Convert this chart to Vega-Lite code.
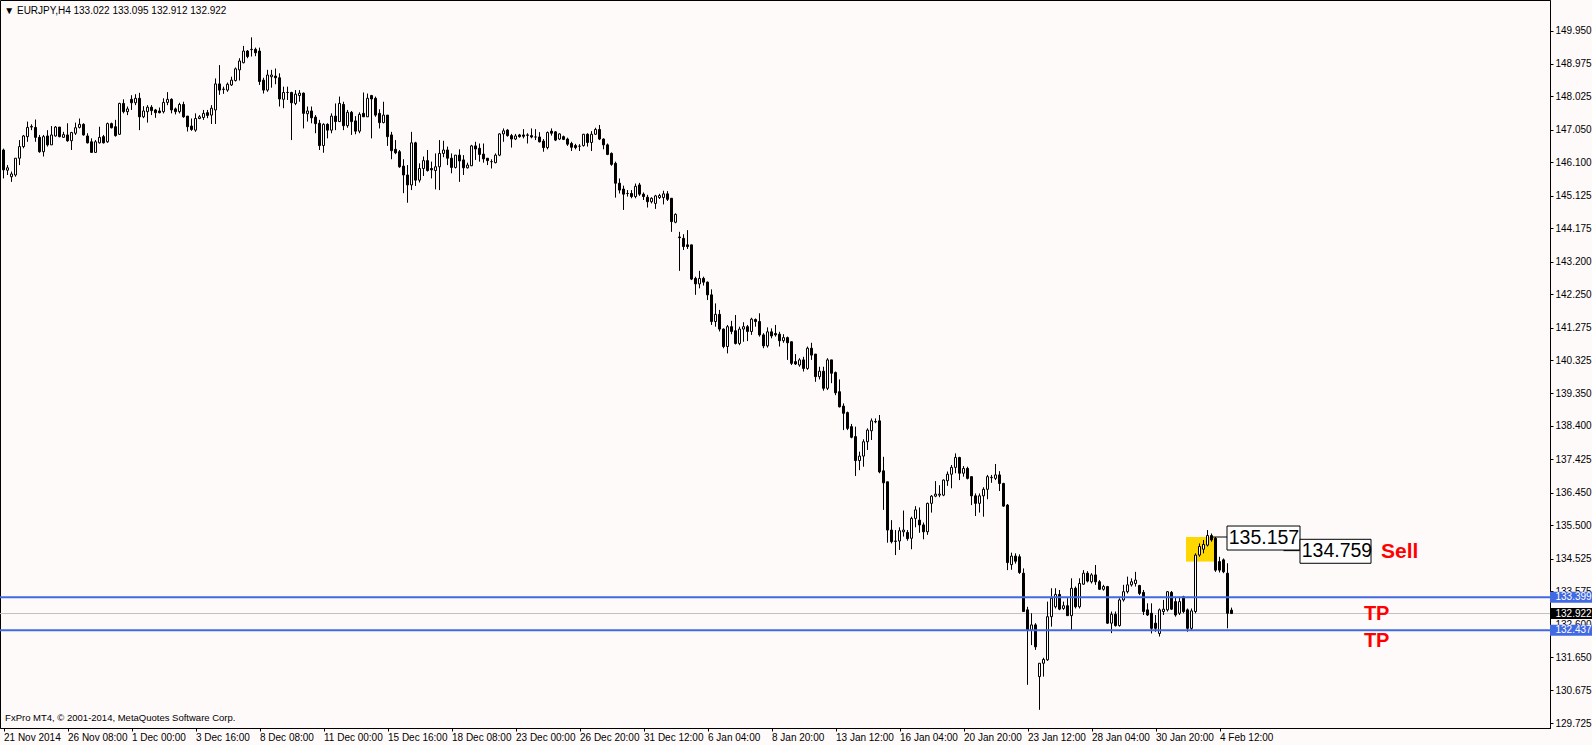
{
"$schema":"https://vega.github.io/schema/vega-lite/v6.json",
"width":1550,"height":728,
"autosize":{"type":"none"},
"padding":{"left":0,"top":0,"right":42,"bottom":17},
"background":"#FFFAFA",
"config":{"view":{"stroke":"#000000","strokeWidth":1},"font":"Liberation Sans"},
"resolve":{"axis":{"x":"independent","y":"independent"}},
"datasets":{
"candles":[
{"i":0,"o":146.46,"h":146.5,"l":145.63,"c":145.88},
{"i":1,"o":145.87,"h":146.02,"l":145.73,"c":145.94},
{"i":2,"o":145.68,"h":145.83,"l":145.53,"c":145.76},
{"i":3,"o":145.73,"h":146.22,"l":145.68,"c":146.22},
{"i":4,"o":146.22,"h":146.75,"l":146.02,"c":146.56},
{"i":5,"o":146.56,"h":146.9,"l":146.51,"c":146.87},
{"i":6,"o":146.85,"h":147.29,"l":146.7,"c":147.12},
{"i":7,"o":147.13,"h":147.21,"l":147.04,"c":147.15},
{"i":8,"o":147.12,"h":147.35,"l":146.7,"c":146.83},
{"i":9,"o":146.83,"h":146.9,"l":146.38,"c":146.41},
{"i":10,"o":146.41,"h":146.9,"l":146.27,"c":146.85},
{"i":11,"o":146.87,"h":147.04,"l":146.56,"c":146.61},
{"i":12,"o":146.61,"h":147.16,"l":146.61,"c":146.9},
{"i":13,"o":146.87,"h":147.16,"l":146.85,"c":147.13},
{"i":14,"o":147.13,"h":147.13,"l":146.83,"c":146.85},
{"i":15,"o":146.83,"h":146.99,"l":146.83,"c":146.91},
{"i":16,"o":146.9,"h":147.24,"l":146.7,"c":146.73},
{"i":17,"o":146.73,"h":146.99,"l":146.46,"c":146.97},
{"i":18,"o":146.95,"h":147.26,"l":146.9,"c":147.11},
{"i":19,"o":147.12,"h":147.38,"l":147.09,"c":147.21},
{"i":20,"o":147.21,"h":147.24,"l":146.88,"c":146.9},
{"i":21,"o":146.87,"h":146.95,"l":146.65,"c":146.67},
{"i":22,"o":146.7,"h":146.8,"l":146.39,"c":146.39},
{"i":23,"o":146.39,"h":146.75,"l":146.39,"c":146.7},
{"i":24,"o":146.67,"h":147.14,"l":146.65,"c":146.83},
{"i":25,"o":146.85,"h":146.9,"l":146.65,"c":146.67},
{"i":26,"o":146.7,"h":147.26,"l":146.67,"c":147.23},
{"i":27,"o":147.23,"h":147.26,"l":147.09,"c":147.11},
{"i":28,"o":147.14,"h":147.34,"l":146.85,"c":146.88},
{"i":29,"o":146.92,"h":147.84,"l":146.9,"c":147.82},
{"i":30,"o":147.82,"h":147.94,"l":147.53,"c":147.58},
{"i":31,"o":147.58,"h":147.73,"l":147.48,"c":147.66},
{"i":32,"o":147.94,"h":148.06,"l":147.63,"c":147.84},
{"i":33,"o":147.84,"h":148.09,"l":147.77,"c":147.97},
{"i":34,"o":147.97,"h":148.13,"l":147.04,"c":147.43},
{"i":35,"o":147.43,"h":147.74,"l":147.39,"c":147.6},
{"i":36,"o":147.58,"h":147.77,"l":147.26,"c":147.71},
{"i":37,"o":147.71,"h":147.77,"l":147.48,"c":147.61},
{"i":38,"o":147.63,"h":147.66,"l":147.4,"c":147.55},
{"i":39,"o":147.6,"h":147.7,"l":147.53,"c":147.55},
{"i":40,"o":147.58,"h":147.97,"l":147.53,"c":147.85},
{"i":41,"o":147.85,"h":148.15,"l":147.77,"c":147.94},
{"i":42,"o":147.94,"h":147.97,"l":147.53,"c":147.63},
{"i":43,"o":147.66,"h":147.7,"l":147.5,"c":147.58},
{"i":44,"o":147.58,"h":147.84,"l":147.53,"c":147.79},
{"i":45,"o":147.79,"h":147.87,"l":147.4,"c":147.43},
{"i":46,"o":147.45,"h":147.45,"l":147.0,"c":147.14},
{"i":47,"o":147.16,"h":147.38,"l":147.02,"c":147.06},
{"i":48,"o":147.04,"h":147.53,"l":146.99,"c":147.38},
{"i":49,"o":147.38,"h":147.48,"l":147.36,"c":147.43},
{"i":50,"o":147.41,"h":147.63,"l":147.34,"c":147.53},
{"i":51,"o":147.55,"h":147.63,"l":147.39,"c":147.47},
{"i":52,"o":147.48,"h":147.77,"l":147.22,"c":147.68},
{"i":53,"o":147.63,"h":148.55,"l":147.22,"c":148.39},
{"i":54,"o":148.39,"h":148.94,"l":148.07,"c":148.21},
{"i":55,"o":148.23,"h":148.31,"l":148.1,"c":148.24},
{"i":56,"o":148.21,"h":148.43,"l":148.16,"c":148.38},
{"i":57,"o":148.36,"h":148.6,"l":148.33,"c":148.5},
{"i":58,"o":148.49,"h":148.87,"l":148.46,"c":148.83},
{"i":59,"o":148.8,"h":149.14,"l":148.49,"c":149.06},
{"i":60,"o":149.01,"h":149.5,"l":148.99,"c":149.35},
{"i":61,"o":149.35,"h":149.38,"l":149.14,"c":149.19},
{"i":62,"o":149.39,"h":149.75,"l":149.19,"c":149.4},
{"i":63,"o":149.4,"h":149.45,"l":149.2,"c":149.3},
{"i":64,"o":149.35,"h":149.45,"l":148.36,"c":148.46},
{"i":65,"o":148.5,"h":148.57,"l":148.11,"c":148.21},
{"i":66,"o":148.21,"h":148.8,"l":148.16,"c":148.65},
{"i":67,"o":148.6,"h":148.8,"l":148.28,"c":148.65},
{"i":68,"o":148.62,"h":148.84,"l":148.38,"c":148.57},
{"i":69,"o":148.57,"h":148.7,"l":147.73,"c":147.95},
{"i":70,"o":147.94,"h":148.31,"l":147.68,"c":148.14},
{"i":71,"o":148.14,"h":148.31,"l":147.92,"c":148.14},
{"i":72,"o":148.14,"h":148.16,"l":146.75,"c":147.84},
{"i":73,"o":147.82,"h":148.21,"l":147.77,"c":148.09},
{"i":74,"o":148.05,"h":148.21,"l":147.87,"c":148.12},
{"i":75,"o":148.12,"h":148.14,"l":147.09,"c":147.53},
{"i":76,"o":147.52,"h":147.73,"l":147.29,"c":147.6},
{"i":77,"o":147.6,"h":147.73,"l":147.24,"c":147.4},
{"i":78,"o":147.42,"h":147.48,"l":146.95,"c":147.23},
{"i":79,"o":147.24,"h":147.34,"l":146.46,"c":146.59},
{"i":80,"o":146.59,"h":147.24,"l":146.38,"c":147.21},
{"i":81,"o":147.21,"h":147.24,"l":146.8,"c":147.04},
{"i":82,"o":147.04,"h":147.53,"l":146.95,"c":147.45},
{"i":83,"o":147.45,"h":147.82,"l":147.04,"c":147.29},
{"i":84,"o":147.29,"h":148.02,"l":147.29,"c":147.82},
{"i":85,"o":147.79,"h":147.87,"l":147.04,"c":147.17},
{"i":86,"o":147.17,"h":147.63,"l":147.11,"c":147.56},
{"i":87,"o":147.56,"h":147.6,"l":146.9,"c":147.29},
{"i":88,"o":147.31,"h":147.45,"l":146.92,"c":147.01},
{"i":89,"o":147.01,"h":147.56,"l":146.95,"c":147.5},
{"i":90,"o":147.53,"h":148.14,"l":147.43,"c":147.43},
{"i":91,"o":147.43,"h":148.11,"l":147.43,"c":147.97},
{"i":92,"o":148.05,"h":148.07,"l":146.8,"c":147.95},
{"i":93,"o":147.97,"h":148.02,"l":147.43,"c":147.48},
{"i":94,"o":147.53,"h":147.65,"l":147.09,"c":147.26},
{"i":95,"o":147.26,"h":147.87,"l":147.24,"c":147.48},
{"i":96,"o":147.48,"h":147.48,"l":146.58,"c":146.85},
{"i":97,"o":146.9,"h":146.99,"l":146.19,"c":146.44},
{"i":98,"o":146.48,"h":146.75,"l":146.34,"c":146.38},
{"i":99,"o":146.41,"h":146.46,"l":145.94,"c":145.97},
{"i":100,"o":145.99,"h":146.19,"l":145.2,"c":145.73},
{"i":101,"o":145.73,"h":146.02,"l":144.92,"c":145.44},
{"i":102,"o":145.44,"h":146.99,"l":145.29,"c":146.67},
{"i":103,"o":146.67,"h":146.7,"l":145.41,"c":145.58},
{"i":104,"o":145.58,"h":146.07,"l":145.51,"c":145.92},
{"i":105,"o":145.92,"h":146.27,"l":145.7,"c":146.15},
{"i":106,"o":146.15,"h":146.46,"l":145.83,"c":145.86},
{"i":107,"o":145.92,"h":146.12,"l":145.63,"c":145.88},
{"i":108,"o":145.86,"h":146.36,"l":145.31,"c":145.97},
{"i":109,"o":145.97,"h":146.75,"l":145.29,"c":146.36},
{"i":110,"o":146.36,"h":146.73,"l":146.25,"c":146.46},
{"i":111,"o":146.46,"h":146.56,"l":146.02,"c":146.22},
{"i":112,"o":146.22,"h":146.36,"l":145.78,"c":145.95},
{"i":113,"o":145.95,"h":146.31,"l":145.92,"c":146.31},
{"i":114,"o":146.31,"h":146.48,"l":145.53,"c":146.14},
{"i":115,"o":146.17,"h":146.31,"l":145.73,"c":145.94},
{"i":116,"o":145.94,"h":146.09,"l":145.92,"c":146.02},
{"i":117,"o":146.0,"h":146.61,"l":145.99,"c":146.58},
{"i":118,"o":146.58,"h":146.7,"l":146.17,"c":146.49},
{"i":119,"o":146.51,"h":146.65,"l":146.12,"c":146.33},
{"i":120,"o":146.34,"h":146.65,"l":146.09,"c":146.2},
{"i":121,"o":146.22,"h":146.22,"l":146.02,"c":146.15},
{"i":122,"o":146.12,"h":146.19,"l":145.92,"c":146.12},
{"i":123,"o":146.09,"h":146.36,"l":146.07,"c":146.31},
{"i":124,"o":146.31,"h":146.95,"l":146.28,"c":146.93},
{"i":125,"o":146.93,"h":147.09,"l":146.7,"c":147.02},
{"i":126,"o":147.04,"h":147.07,"l":146.85,"c":146.88},
{"i":127,"o":146.88,"h":146.93,"l":146.53,"c":146.78},
{"i":128,"o":146.78,"h":146.93,"l":146.75,"c":146.87},
{"i":129,"o":146.9,"h":146.93,"l":146.82,"c":146.85},
{"i":130,"o":146.9,"h":147.07,"l":146.8,"c":146.86},
{"i":131,"o":146.9,"h":146.95,"l":146.65,"c":146.89},
{"i":132,"o":146.88,"h":147.09,"l":146.8,"c":146.84},
{"i":133,"o":146.84,"h":147.07,"l":146.75,"c":146.84},
{"i":134,"o":146.84,"h":146.98,"l":146.68,"c":146.7},
{"i":135,"o":146.72,"h":146.78,"l":146.41,"c":146.53},
{"i":136,"o":146.53,"h":147.0,"l":146.48,"c":146.97},
{"i":137,"o":147.01,"h":147.09,"l":146.88,"c":146.95},
{"i":138,"o":146.99,"h":147.01,"l":146.72,"c":146.75},
{"i":139,"o":146.78,"h":146.95,"l":146.75,"c":146.93},
{"i":140,"o":146.85,"h":146.88,"l":146.75,"c":146.77},
{"i":141,"o":146.78,"h":146.82,"l":146.58,"c":146.63},
{"i":142,"o":146.65,"h":146.7,"l":146.43,"c":146.54},
{"i":143,"o":146.59,"h":146.64,"l":146.48,"c":146.53},
{"i":144,"o":146.57,"h":146.63,"l":146.43,"c":146.57},
{"i":145,"o":146.59,"h":146.93,"l":146.56,"c":146.92},
{"i":146,"o":146.92,"h":146.95,"l":146.56,"c":146.68},
{"i":147,"o":146.68,"h":147.01,"l":146.43,"c":146.92},
{"i":148,"o":146.92,"h":147.11,"l":146.9,"c":147.06},
{"i":149,"o":147.06,"h":147.19,"l":146.75,"c":146.78},
{"i":150,"o":146.78,"h":146.8,"l":146.48,"c":146.61},
{"i":151,"o":146.61,"h":146.65,"l":146.31,"c":146.33},
{"i":152,"o":146.36,"h":146.39,"l":146.0,"c":146.04},
{"i":153,"o":146.07,"h":146.12,"l":145.07,"c":145.49},
{"i":154,"o":145.49,"h":145.63,"l":145.19,"c":145.29},
{"i":155,"o":145.32,"h":145.42,"l":144.71,"c":145.17},
{"i":156,"o":145.19,"h":145.29,"l":145.1,"c":145.19},
{"i":157,"o":145.19,"h":145.29,"l":145.05,"c":145.1},
{"i":158,"o":145.1,"h":145.48,"l":145.05,"c":145.4},
{"i":159,"o":145.44,"h":145.5,"l":145.12,"c":145.17},
{"i":160,"o":145.17,"h":145.22,"l":145.0,"c":145.1},
{"i":161,"o":145.08,"h":145.15,"l":144.78,"c":144.95},
{"i":162,"o":144.95,"h":145.08,"l":144.9,"c":145.05},
{"i":163,"o":144.9,"h":145.15,"l":144.74,"c":145.12},
{"i":164,"o":145.07,"h":145.18,"l":145.03,"c":145.13},
{"i":165,"o":145.07,"h":145.27,"l":144.87,"c":145.18},
{"i":166,"o":145.18,"h":145.26,"l":144.97,"c":145.02},
{"i":167,"o":145.05,"h":145.05,"l":144.07,"c":144.37},
{"i":168,"o":144.35,"h":144.61,"l":144.32,"c":144.58},
{"i":169,"o":143.92,"h":144.07,"l":142.93,"c":143.9},
{"i":170,"o":143.88,"h":144.0,"l":143.54,"c":143.64},
{"i":171,"o":143.69,"h":144.12,"l":143.57,"c":143.64},
{"i":172,"o":143.69,"h":143.69,"l":142.66,"c":142.69},
{"i":173,"o":142.71,"h":142.76,"l":142.23,"c":142.55},
{"i":174,"o":142.55,"h":142.93,"l":142.42,"c":142.71},
{"i":175,"o":142.71,"h":142.76,"l":142.5,"c":142.6},
{"i":176,"o":142.6,"h":142.62,"l":142.08,"c":142.23},
{"i":177,"o":142.23,"h":142.39,"l":141.35,"c":141.45},
{"i":178,"o":141.45,"h":141.98,"l":141.3,"c":141.66},
{"i":179,"o":141.66,"h":141.79,"l":141.16,"c":141.23},
{"i":180,"o":141.23,"h":141.25,"l":140.67,"c":140.72},
{"i":181,"o":140.72,"h":141.35,"l":140.52,"c":141.3},
{"i":182,"o":141.3,"h":141.47,"l":141.08,"c":141.16},
{"i":183,"o":141.18,"h":141.64,"l":140.78,"c":140.81},
{"i":184,"o":140.81,"h":141.3,"l":140.76,"c":141.23},
{"i":185,"o":141.23,"h":141.43,"l":140.86,"c":141.3},
{"i":186,"o":141.3,"h":141.35,"l":140.88,"c":141.16},
{"i":187,"o":141.16,"h":141.56,"l":141.06,"c":141.52},
{"i":188,"o":141.51,"h":141.54,"l":141.3,"c":141.45},
{"i":189,"o":141.45,"h":141.69,"l":141.01,"c":141.06},
{"i":190,"o":141.06,"h":141.11,"l":140.67,"c":140.74},
{"i":191,"o":140.74,"h":141.28,"l":140.69,"c":141.15},
{"i":192,"o":141.15,"h":141.25,"l":140.96,"c":141.03},
{"i":193,"o":141.1,"h":141.35,"l":141.01,"c":141.06},
{"i":194,"o":141.08,"h":141.15,"l":140.72,"c":140.89},
{"i":195,"o":140.89,"h":141.08,"l":140.83,"c":140.98},
{"i":196,"o":140.98,"h":141.01,"l":140.33,"c":140.83},
{"i":197,"o":140.86,"h":140.86,"l":140.18,"c":140.23},
{"i":198,"o":140.28,"h":140.5,"l":140.18,"c":140.21},
{"i":199,"o":140.18,"h":140.38,"l":140.13,"c":140.33},
{"i":200,"o":140.33,"h":140.42,"l":139.99,"c":140.08},
{"i":201,"o":140.08,"h":140.72,"l":140.04,"c":140.67},
{"i":202,"o":140.67,"h":140.83,"l":140.33,"c":140.47},
{"i":203,"o":140.5,"h":140.5,"l":139.69,"c":139.84},
{"i":204,"o":139.84,"h":140.13,"l":139.76,"c":140.0},
{"i":205,"o":140.0,"h":140.13,"l":139.43,"c":139.5},
{"i":206,"o":139.5,"h":140.38,"l":139.45,"c":140.33},
{"i":207,"o":140.33,"h":140.33,"l":139.65,"c":139.94},
{"i":208,"o":139.96,"h":139.99,"l":139.3,"c":139.37},
{"i":209,"o":139.4,"h":139.76,"l":138.94,"c":138.96},
{"i":210,"o":138.98,"h":139.06,"l":138.28,"c":138.77},
{"i":211,"o":138.79,"h":138.82,"l":138.28,"c":138.33},
{"i":212,"o":138.38,"h":138.46,"l":138.04,"c":138.07},
{"i":213,"o":138.09,"h":138.38,"l":136.94,"c":137.39},
{"i":214,"o":137.39,"h":137.65,"l":137.11,"c":137.52},
{"i":215,"o":137.52,"h":138.01,"l":137.21,"c":137.94},
{"i":216,"o":137.94,"h":138.33,"l":137.7,"c":138.28},
{"i":217,"o":138.26,"h":138.62,"l":137.99,"c":138.55},
{"i":218,"o":138.53,"h":138.62,"l":138.48,"c":138.52},
{"i":219,"o":138.55,"h":138.72,"l":137.02,"c":137.06},
{"i":220,"o":137.09,"h":137.5,"l":135.95,"c":136.74},
{"i":221,"o":136.77,"h":136.77,"l":134.99,"c":135.36},
{"i":222,"o":135.36,"h":135.65,"l":134.97,"c":135.02},
{"i":223,"o":135.04,"h":135.36,"l":134.63,"c":135.03},
{"i":224,"o":135.04,"h":135.44,"l":134.78,"c":135.34},
{"i":225,"o":135.31,"h":135.93,"l":135.17,"c":135.36},
{"i":226,"o":135.29,"h":135.36,"l":135.05,"c":135.11},
{"i":227,"o":135.12,"h":135.75,"l":134.8,"c":135.7},
{"i":228,"o":135.7,"h":136.06,"l":135.44,"c":135.95},
{"i":229,"o":135.65,"h":136.02,"l":135.28,"c":135.51},
{"i":230,"o":135.51,"h":135.58,"l":135.09,"c":135.31},
{"i":231,"o":135.31,"h":136.16,"l":135.22,"c":136.14},
{"i":232,"o":136.14,"h":136.38,"l":135.87,"c":136.35},
{"i":233,"o":136.35,"h":136.79,"l":136.32,"c":136.41},
{"i":234,"o":136.38,"h":136.67,"l":136.32,"c":136.41},
{"i":235,"o":136.38,"h":136.84,"l":136.35,"c":136.82},
{"i":236,"o":136.8,"h":137.07,"l":136.65,"c":136.99},
{"i":237,"o":136.99,"h":137.26,"l":136.58,"c":137.19},
{"i":238,"o":137.19,"h":137.6,"l":137.02,"c":137.48},
{"i":239,"o":137.48,"h":137.5,"l":136.82,"c":137.02},
{"i":240,"o":137.02,"h":137.23,"l":136.92,"c":137.16},
{"i":241,"o":137.16,"h":137.21,"l":136.84,"c":136.87},
{"i":242,"o":136.92,"h":136.92,"l":136.09,"c":136.36},
{"i":243,"o":136.36,"h":136.43,"l":135.77,"c":136.14},
{"i":244,"o":136.14,"h":136.43,"l":135.87,"c":136.36},
{"i":245,"o":136.36,"h":136.61,"l":135.75,"c":136.55},
{"i":246,"o":136.55,"h":136.97,"l":136.26,"c":136.92},
{"i":247,"o":136.89,"h":136.97,"l":136.74,"c":136.9},
{"i":248,"o":136.87,"h":137.29,"l":136.82,"c":136.97},
{"i":249,"o":136.97,"h":137.08,"l":136.5,"c":136.72},
{"i":250,"o":136.72,"h":136.74,"l":136.04,"c":136.06},
{"i":251,"o":136.09,"h":136.12,"l":134.19,"c":134.41},
{"i":252,"o":134.35,"h":134.7,"l":134.2,"c":134.6},
{"i":253,"o":134.6,"h":134.68,"l":134.38,"c":134.45},
{"i":254,"o":134.58,"h":134.65,"l":134.08,"c":134.12},
{"i":255,"o":134.1,"h":134.24,"l":132.98,"c":132.98},
{"i":256,"o":133.03,"h":133.12,"l":130.84,"c":132.44},
{"i":257,"o":132.44,"h":132.93,"l":132.0,"c":132.59},
{"i":258,"o":132.59,"h":132.64,"l":131.86,"c":131.95},
{"i":259,"o":131.08,"h":131.47,"l":130.11,"c":131.47},
{"i":260,"o":131.47,"h":131.63,"l":131.08,"c":131.58},
{"i":261,"o":131.57,"h":133.27,"l":131.54,"c":132.83},
{"i":262,"o":132.83,"h":133.66,"l":132.54,"c":133.37},
{"i":263,"o":133.12,"h":133.66,"l":133.07,"c":133.48},
{"i":264,"o":133.48,"h":133.61,"l":133.02,"c":133.05},
{"i":265,"o":133.07,"h":133.27,"l":133.03,"c":133.15},
{"i":266,"o":133.15,"h":133.37,"l":132.85,"c":132.86},
{"i":267,"o":132.86,"h":133.95,"l":132.44,"c":133.66},
{"i":268,"o":133.66,"h":133.71,"l":133.07,"c":133.12},
{"i":269,"o":133.12,"h":133.95,"l":133.07,"c":133.8},
{"i":270,"o":133.78,"h":134.19,"l":133.76,"c":134.1},
{"i":271,"o":134.1,"h":134.16,"l":133.83,"c":133.87},
{"i":272,"o":133.85,"h":134.1,"l":133.8,"c":134.05},
{"i":273,"o":134.05,"h":134.34,"l":133.76,"c":133.85},
{"i":274,"o":133.85,"h":133.9,"l":133.61,"c":133.63},
{"i":275,"o":133.63,"h":133.76,"l":133.59,"c":133.71},
{"i":276,"o":133.71,"h":133.73,"l":132.62,"c":132.64},
{"i":277,"o":132.64,"h":132.98,"l":132.35,"c":132.9},
{"i":278,"o":132.9,"h":132.98,"l":132.54,"c":132.57},
{"i":279,"o":132.57,"h":133.37,"l":132.54,"c":133.32},
{"i":280,"o":133.32,"h":133.76,"l":133.27,"c":133.56},
{"i":281,"o":133.56,"h":134.0,"l":133.51,"c":133.76},
{"i":282,"o":133.76,"h":133.95,"l":133.71,"c":133.85},
{"i":283,"o":133.8,"h":134.14,"l":133.71,"c":133.9},
{"i":284,"o":133.74,"h":133.76,"l":133.46,"c":133.51},
{"i":285,"o":133.54,"h":133.61,"l":132.88,"c":132.98},
{"i":286,"o":133.03,"h":133.22,"l":132.85,"c":132.88},
{"i":287,"o":132.93,"h":133.22,"l":132.34,"c":132.49},
{"i":288,"o":132.64,"h":132.88,"l":132.39,"c":132.49},
{"i":289,"o":132.34,"h":133.07,"l":132.25,"c":133.03},
{"i":290,"o":132.98,"h":133.32,"l":132.88,"c":133.05},
{"i":291,"o":133.03,"h":133.58,"l":132.98,"c":133.56},
{"i":292,"o":133.54,"h":133.58,"l":133.03,"c":133.05},
{"i":293,"o":133.27,"h":133.41,"l":132.83,"c":132.88},
{"i":294,"o":132.93,"h":133.41,"l":132.88,"c":133.27},
{"i":295,"o":133.41,"h":133.44,"l":132.93,"c":132.98},
{"i":296,"o":133.03,"h":133.07,"l":132.39,"c":132.49},
{"i":297,"o":132.49,"h":133.07,"l":132.44,"c":133.0},
{"i":298,"o":132.98,"h":134.68,"l":132.93,"c":134.63},
{"i":299,"o":134.63,"h":134.97,"l":134.58,"c":134.88},
{"i":300,"o":134.8,"h":135.07,"l":134.68,"c":134.94},
{"i":301,"o":134.92,"h":135.36,"l":134.88,"c":135.2},
{"i":302,"o":135.2,"h":135.26,"l":135.02,"c":135.07},
{"i":303,"o":135.12,"h":135.157,"l":134.14,"c":134.19},
{"i":304,"o":134.44,"h":134.58,"l":134.12,"c":134.19},
{"i":305,"o":134.49,"h":134.53,"l":134.1,"c":134.14},
{"i":306,"o":134.1,"h":134.39,"l":132.49,"c":132.93},
{"i":307,"o":133.022,"h":133.095,"l":132.912,"c":132.922}
]
},
"layer":[
{"data":{"values":[{}]},"mark":{"type":"rect","fill":"#FFD700"},
 "encoding":{"x":{"datum":295.625,"type":"quantitative","axis":null,"scale":{"domain":[-0.875,386.625],"nice":false,"zero":false,"padding":0}},"x2":{"datum":302.875},
 "y":{"datum":135.157,"type":"quantitative","axis":null,"scale":{"domain":[129.579,150.841],"nice":false,"zero":false,"padding":0}},"y2":{"datum":134.44}}},
{"data":{"values":[{"price":132.922}]},"mark":{"type":"rule","stroke":"#C0C0C0","strokeWidth":1},
 "encoding":{"y":{"field":"price","type":"quantitative","axis":null}}},
{"data":{"name":"candles"},"mark":{"type":"rule","stroke":"#000000","strokeWidth":1},
 "encoding":{
  "x":{"field":"i","type":"quantitative","scale":{"domain":[-0.875,386.625],"nice":false,"zero":false,"padding":0},
   "axis":{"orient":"bottom","values":[0,16,32,48,64,80,96,112,128,144,160,176,192,208,224,240,256,272,288,304],
    "labelExpr":"['21 Nov 2014','26 Nov 08:00','1 Dec 00:00','3 Dec 16:00','8 Dec 08:00','11 Dec 00:00','15 Dec 16:00','18 Dec 08:00','23 Dec 00:00','26 Dec 20:00','31 Dec 12:00','6 Jan 04:00','8 Jan 20:00','13 Jan 12:00','16 Jan 04:00','20 Jan 20:00','23 Jan 12:00','28 Jan 04:00','30 Jan 20:00','4 Feb 12:00'][round(datum.value/16)]",
    "labelAlign":"left","labelDx":-3,"labelFontSize":10,"labelColor":"#000000","labelFont":"Liberation Sans","labelPadding":1,"labelOverlap":false,"labelFlush":false,"labelBound":false,
    "tickSize":3,"tickColor":"#000000","domainColor":"#000000","grid":false,"title":null}},
  "y":{"field":"l","type":"quantitative","scale":{"domain":[129.579,150.841],"nice":false,"zero":false,"padding":0},
   "axis":{"orient":"right","values":[149.95,148.975,148.025,147.05,146.1,145.125,144.175,143.2,142.25,141.275,140.325,139.35,138.4,137.425,136.45,135.5,134.525,133.575,132.6,131.65,130.675,129.725],
    "format":".3f","labelFontSize":10,"labelColor":"#000000","labelFont":"Liberation Sans","labelPadding":2,"labelOverlap":false,"labelBound":false,"labelFlush":false,
    "tickSize":3,"tickColor":"#000000","domainColor":"#000000","grid":false,"title":null}},
  "y2":{"field":"h"}}},
{"data":{"name":"candles"},"mark":{"type":"bar","width":2,"stroke":"#000000","strokeWidth":1},
 "encoding":{
  "x":{"field":"i","type":"quantitative","axis":null},
  "y":{"field":"o","type":"quantitative","axis":null},
  "y2":{"field":"c"},
  "fill":{"condition":{"test":"datum.c >= datum.o","value":"#FFFFFF"},"value":"#000000"}}},
{"data":{"values":[{"price":133.399},{"price":132.437}]},"mark":{"type":"rule","stroke":"#4169E1","strokeWidth":2},
 "encoding":{"y":{"field":"price","type":"quantitative","axis":null}}},
{"data":{"values":[{}]},"mark":{"type":"rule","stroke":"#000000","strokeWidth":1},
 "encoding":{"x":{"datum":302,"axis":null},"x2":{"datum":306},"y":{"datum":135.157,"axis":null}}},
{"data":{"values":[{}]},"mark":{"type":"rule","stroke":"#000000","strokeWidth":1},
 "encoding":{"x":{"datum":320,"axis":null},"x2":{"datum":324},"y":{"datum":134.759,"axis":null}}},
{"data":{"values":[{}]},"mark":{"type":"rect","fill":"#FFFFFF","stroke":"#000000","strokeWidth":1},
 "encoding":{"x":{"datum":305.875,"axis":null},"x2":{"datum":324.125},"y":{"datum":135.478,"axis":null},"y2":{"datum":134.777}}},
{"data":{"values":[{"label":"135.157"}]},"mark":{"type":"text","align":"left","baseline":"middle","fontSize":19.5,"font":"Liberation Sans","color":"#000000"},
 "encoding":{"x":{"datum":306.3,"axis":null},"y":{"datum":135.128,"axis":null},"text":{"field":"label"}}},
{"data":{"values":[{}]},"mark":{"type":"rect","fill":"#FFFFFF","stroke":"#000000","strokeWidth":1},
 "encoding":{"x":{"datum":324.125,"axis":null},"x2":{"datum":341.875},"y":{"datum":135.09,"axis":null},"y2":{"datum":134.39}}},
{"data":{"values":[{"label":"134.759"}]},"mark":{"type":"text","align":"left","baseline":"middle","fontSize":19.5,"font":"Liberation Sans","color":"#000000"},
 "encoding":{"x":{"datum":324.55,"axis":null},"y":{"datum":134.74,"axis":null},"text":{"field":"label"}}},
{"data":{"values":[{"label":"Sell"}]},"mark":{"type":"text","align":"left","baseline":"middle","fontSize":21,"fontWeight":"bold","font":"Liberation Sans","color":"#FF0000"},
 "encoding":{"x":{"datum":344.4,"axis":null},"y":{"datum":134.73,"axis":null},"text":{"field":"label"}}},
{"data":{"values":[{"label":"TP","price":132.894},{"label":"TP","price":132.12}]},"mark":{"type":"text","align":"left","baseline":"middle","fontSize":20,"fontWeight":"bold","font":"Liberation Sans","color":"#FF0000"},
 "encoding":{"x":{"datum":340.1,"axis":null},"y":{"field":"price","type":"quantitative","axis":null},"text":{"field":"label"}}},
{"data":{"values":[{"price":133.399},{"price":132.437}]},"mark":{"type":"tick","orient":"horizontal","size":42,"thickness":11,"color":"#4169E1","opacity":1},
 "encoding":{"x":{"datum":391.875,"axis":null},"y":{"field":"price","type":"quantitative","axis":null}}},
{"data":{"values":[{"price":132.922}]},"mark":{"type":"tick","orient":"horizontal","size":42,"thickness":11,"color":"#000000","opacity":1},
 "encoding":{"x":{"datum":391.875,"axis":null},"y":{"field":"price","type":"quantitative","axis":null}}},
{"data":{"values":[{"price":133.399,"label":"133.399"},{"price":132.437,"label":"132.437"},{"price":132.922,"label":"132.922"}]},"mark":{"type":"text","align":"left","baseline":"middle","fontSize":10,"font":"Liberation Sans","color":"#FFFFFF"},
 "encoding":{"x":{"datum":388.0,"axis":null},"y":{"field":"price","type":"quantitative","axis":null},"text":{"field":"label"}}},
{"data":{"values":[{"label":"▼  EURJPY,H4  133.022 133.095 132.912 132.922"}]},"mark":{"type":"text","align":"left","baseline":"middle","fontSize":10,"font":"Liberation Sans","color":"#000000"},
 "encoding":{"x":{"datum":0.2,"axis":null},"y":{"datum":150.52,"axis":null},"text":{"field":"label"}}},
{"data":{"values":[{"label":"FxPro MT4, © 2001-2014, MetaQuotes Software Corp."}]},"mark":{"type":"text","align":"left","baseline":"middle","fontSize":9.5,"font":"Liberation Sans","color":"#000000"},
 "encoding":{"x":{"datum":0.4,"axis":null},"y":{"datum":129.871,"axis":null},"text":{"field":"label"}}}
]
}
